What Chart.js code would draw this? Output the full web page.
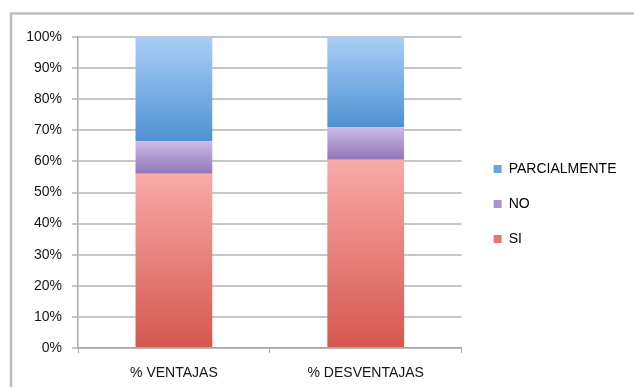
<!DOCTYPE html>
<html>
<head>
<meta charset="utf-8">
<script src="https://cdn.jsdelivr.net/npm/chart.js@4/dist/chart.umd.min.js"></script>
<style>
  html, body { margin: 0; padding: 0; background: #fff; }
  #wrap { position: relative; width: 634px; height: 387px; }
</style>
</head>
<body>
<div id="wrap"><canvas id="stackChart" width="634" height="387"></canvas></div>
<script>
// categories and stacked shares (percent), bottom to top
const categories = ['% VENTAJAS', '% DESVENTAJAS'];
const siValues = [56, 60.5];
const noValues = [10.5, 10.5];
const parcialValues = [33.5, 29];
const yTicks = [0, 10, 20, 30, 40, 50, 60, 70, 80, 90, 100];

// top / bottom colour of each segment gradient, plus a flat colour for the legend box
const palette = {
    si: { top: '#f8aaa7', bottom: '#d5574d', flat: '#e57671' },
    no: { top: '#ccbbe7', bottom: '#9176b8', flat: '#a994cf' },
    parcial: { top: '#a9cef8', bottom: '#4f91d2', flat: '#6aa5e2' }
};

const FONT = '"Liberation Sans", Arial, sans-serif';
const TEXT = '#15151c';
const GRID = '#c6c6c6';

const stackOrder = [siValues, noValues, parcialValues];

// each segment gets its own vertical gradient between its lower and upper value
const segmentFill = (seriesIndex, colors) => (ctx) => {
    const chart = ctx.chart;
    const y = chart.scales && chart.scales.y;
    if (!y || ctx.type !== 'data') return colors.flat;
    let base = 0;
    for (let s = 0; s < seriesIndex; s++) base += stackOrder[s][ctx.dataIndex];
    const top = base + stackOrder[seriesIndex][ctx.dataIndex];
    const y0 = y.getPixelForValue(top);
    const y1 = y.getPixelForValue(base);
    if (!isFinite(y0) || !isFinite(y1) || y0 === y1) return colors.flat;
    const g = chart.ctx.createLinearGradient(0, y0, 0, y1);
    g.addColorStop(0, colors.top);
    g.addColorStop(1, colors.bottom);
    return g;
};

// outer frame: top and left edge only
const framePlugin = {
    id: 'frame',
    beforeDraw(chart) {
        const c = chart.ctx;
        c.save();
        c.strokeStyle = '#bebebe';
        c.lineWidth = 2.5;
        c.beginPath();
        c.moveTo(634, 13.5);
        c.lineTo(11, 13.5);
        c.lineTo(11, 387);
        c.stroke();
        c.restore();
    }
};

// nudge the legend block into its place beside the plot
const legendShift = {
    id: 'legendShift',
    afterLayout(chart) {
        const lg = chart.legend;
        if (!lg) return;
        lg.left += 11; lg.right += 11;
        lg.top -= 8; lg.bottom -= 8;
    }
};

const chart = new Chart(document.getElementById('stackChart'), {
    type: 'bar',
    data: {
        labels: categories,
        datasets: [
            { label: 'SI', data: siValues, backgroundColor: segmentFill(0, palette.si) },
            { label: 'NO', data: noValues, backgroundColor: segmentFill(1, palette.no) },
            { label: 'PARCIALMENTE', data: parcialValues, backgroundColor: segmentFill(2, palette.parcial) }
        ]
    },
    options: {
        responsive: false,
        animation: false,
        devicePixelRatio: 1,
        layout: { padding: { top: 37, left: 0, right: 20, bottom: 0 } },
        datasets: { bar: { barPercentage: 0.4, categoryPercentage: 1, borderWidth: 0 } },
        scales: {
            x: {
                stacked: true,
                grid: { drawOnChartArea: false, drawTicks: true, tickLength: 5, color: '#a9a9a9', offset: true },
                border: { color: '#a9a9a9', width: 1.5 },
                ticks: { color: TEXT, font: { family: FONT, size: 14 }, padding: 12 },
                afterFit(scale) { scale.height = 39; }
            },
            y: {
                stacked: true,
                min: 0,
                max: 100,
                afterBuildTicks(scale) { scale.ticks = yTicks.map(v => ({ value: v })); },
                grid: { color: GRID, lineWidth: 2, tickLength: 6 },
                border: { color: '#a9a9a9', width: 1.5 },
                ticks: { color: TEXT, font: { family: FONT, size: 14 }, padding: 10, callback: v => v + '%' },
                afterFit(scale) { scale.width = 78; }
            }
        },
        plugins: {
            tooltip: { enabled: false },
            legend: {
                position: 'right',
                reverse: true,
                labels: {
                    boxWidth: 8,
                    boxHeight: 8,
                    padding: 21,
                    color: TEXT,
                    font: { family: FONT, size: 14 },
                    generateLabels(ch) {
                        const flats = [palette.si.flat, palette.no.flat, palette.parcial.flat];
                        return ch.data.datasets.map((ds, i) => ({
                            text: ds.label,
                            fillStyle: flats[i],
                            strokeStyle: flats[i],
                            lineWidth: 0,
                            hidden: false,
                            datasetIndex: i
                        }));
                    }
                }
            }
        }
    },
    plugins: [framePlugin, legendShift]
});

// size the right padding so the plot ends where the legend column begins
const wantRight = 462;
const pad = chart.options.layout.padding;
pad.right = Math.max(0, pad.right + (chart.chartArea.right - wantRight));
chart.update();
</script>
</body>
</html>
